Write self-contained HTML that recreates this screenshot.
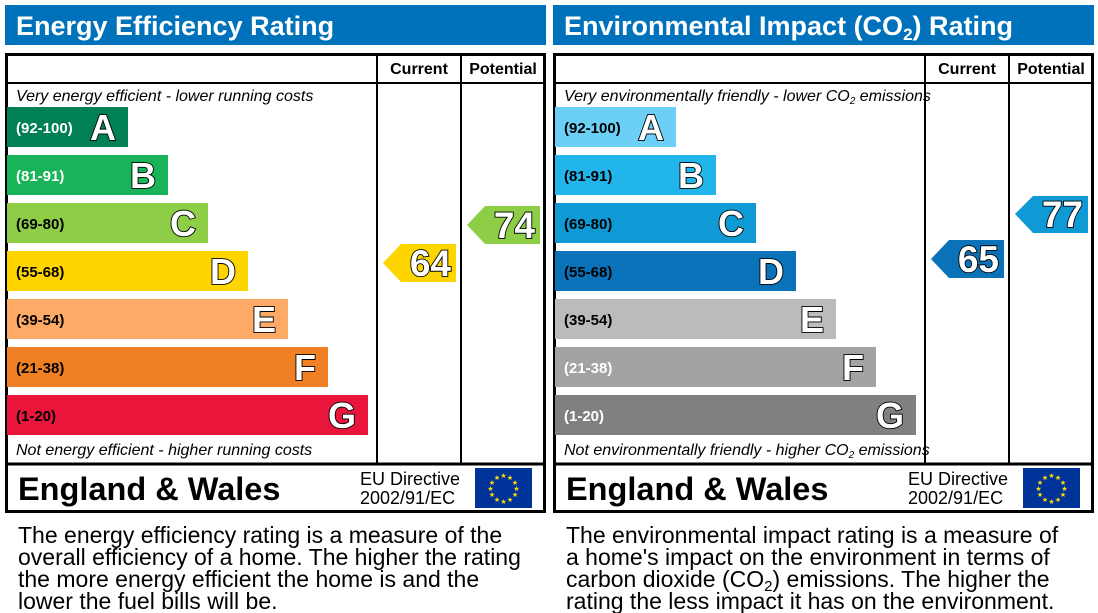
<!DOCTYPE html>
<html><head><meta charset="utf-8"><style>
body{margin:0;background:#fff;}
svg{display:block;font-family:"Liberation Sans",Arial,sans-serif;}
.ltr{font-weight:bold;font-size:36px;fill:#fff;stroke:#000;stroke-width:1.8;paint-order:stroke;}
.rng{font-weight:bold;font-size:15px;fill:#fff;}
.num{font-weight:bold;font-size:37px;fill:#fff;stroke:#000;stroke-width:1.8;paint-order:stroke;}
</style></head><body>
<svg width="1098" height="613" viewBox="0 0 1098 613">
<defs>
<g id="eu"><rect x="0" y="0" width="57" height="40" fill="#003399"/>
<g fill="#ffdd00" font-size="7" text-anchor="middle">
<text x="28.5" y="10">★</text><text x="35" y="12">★</text><text x="40" y="17">★</text><text x="41.5" y="23">★</text><text x="40" y="29">★</text><text x="35" y="34">★</text><text x="28.5" y="36">★</text><text x="22" y="34">★</text><text x="17" y="29">★</text><text x="15.5" y="23">★</text><text x="17" y="17">★</text><text x="22" y="12">★</text></g></g>
</defs>

<!-- LEFT -->
<rect x="5" y="5" width="541" height="40" fill="#0072bb"/>
<text x="16" y="35" font-size="27" font-weight="bold" fill="#fff">Energy Efficiency Rating</text>
<rect x="6.5" y="54.5" width="538" height="457" fill="none" stroke="#000" stroke-width="3"/>
<line x1="5" y1="83" x2="546" y2="83" stroke="#000" stroke-width="2"/>
<line x1="5" y1="464" x2="546" y2="464" stroke="#000" stroke-width="3"/>
<line x1="377" y1="54" x2="377" y2="464" stroke="#000" stroke-width="2"/>
<line x1="461" y1="54" x2="461" y2="464" stroke="#000" stroke-width="2"/>
<text x="419" y="74" font-size="16" font-weight="bold" text-anchor="middle">Current</text>
<text x="503" y="74" font-size="16" font-weight="bold" text-anchor="middle">Potential</text>
<text x="16" y="101" font-size="16" font-style="italic">Very energy efficient - lower running costs</text>
<text x="16" y="455" font-size="16" font-style="italic">Not energy efficient - higher running costs</text>
<rect x="7" y="107" width="121" height="40" fill="#008054"/><text class="rng" x="16" y="133">(92-100)</text><text class="ltr" x="116" y="140" text-anchor="end">A</text>
<rect x="7" y="155" width="161" height="40" fill="#19b459"/><text class="rng" x="16" y="181">(81-91)</text><text class="ltr" x="156" y="188" text-anchor="end">B</text>
<rect x="7" y="203" width="201" height="40" fill="#8dce46"/><text class="rng" x="16" y="229" style="fill:#000">(69-80)</text><text class="ltr" x="196" y="236" text-anchor="end">C</text>
<rect x="7" y="251" width="241" height="40" fill="#ffd500"/><text class="rng" x="16" y="277" style="fill:#000">(55-68)</text><text class="ltr" x="236" y="284" text-anchor="end">D</text>
<rect x="7" y="299" width="281" height="40" fill="#fcaa65"/><text class="rng" x="16" y="325" style="fill:#000">(39-54)</text><text class="ltr" x="276" y="332" text-anchor="end">E</text>
<rect x="7" y="347" width="321" height="40" fill="#ef8023"/><text class="rng" x="16" y="373" style="fill:#000">(21-38)</text><text class="ltr" x="316" y="380" text-anchor="end">F</text>
<rect x="7" y="395" width="361" height="40" fill="#e9153b"/><text class="rng" x="16" y="421" style="fill:#000">(1-20)</text><text class="ltr" x="356" y="428" text-anchor="end">G</text>
<polygon points="383,263 401,244 456,244 456,282 401,282" fill="#ffd500"/><text class="num" x="451" y="276" text-anchor="end">64</text>
<polygon points="467,225 485,206 540,206 540,244 485,244" fill="#8dce46"/><text class="num" x="535" y="238" text-anchor="end">74</text>
<text x="18" y="500" font-size="32.5" font-weight="bold">England &amp; Wales</text>
<text x="360" y="485" font-size="18">EU Directive</text>
<text x="360" y="504" font-size="18">2002/91/EC</text>
<use href="#eu" x="475" y="468"/>
<g font-size="23">
<text x="18" y="543">The energy efficiency rating is a measure of the</text>
<text x="18" y="565">overall efficiency of a home. The higher the rating</text>
<text x="18" y="587">the more energy efficient the home is and the</text>
<text x="18" y="609">lower the fuel bills will be.</text>
</g>

<!-- RIGHT -->
<g transform="translate(548,0)">
<rect x="5" y="5" width="541" height="40" fill="#0072bb"/>
<text x="16" y="35" font-size="27" font-weight="bold" fill="#fff">Environmental Impact (CO<tspan font-size="17" dy="5">2</tspan><tspan dy="-5">) Rating</tspan></text>
<rect x="6.5" y="54.5" width="538" height="457" fill="none" stroke="#000" stroke-width="3"/>
<line x1="5" y1="83" x2="546" y2="83" stroke="#000" stroke-width="2"/>
<line x1="5" y1="464" x2="546" y2="464" stroke="#000" stroke-width="3"/>
<line x1="377" y1="54" x2="377" y2="464" stroke="#000" stroke-width="2"/>
<line x1="461" y1="54" x2="461" y2="464" stroke="#000" stroke-width="2"/>
<text x="419" y="74" font-size="16" font-weight="bold" text-anchor="middle">Current</text>
<text x="503" y="74" font-size="16" font-weight="bold" text-anchor="middle">Potential</text>
<text x="16" y="101" font-size="16" font-style="italic">Very environmentally friendly - lower CO<tspan font-size="10" dy="3">2</tspan><tspan dy="-3"> emissions</tspan></text>
<text x="16" y="455" font-size="16" font-style="italic">Not environmentally friendly - higher CO<tspan font-size="10" dy="3">2</tspan><tspan dy="-3"> emissions</tspan></text>
<rect x="7" y="107" width="121" height="40" fill="#6ccff6"/><text class="rng" x="16" y="133" style="fill:#000">(92-100)</text><text class="ltr" x="116" y="140" text-anchor="end">A</text>
<rect x="7" y="155" width="161" height="40" fill="#22b5ec"/><text class="rng" x="16" y="181" style="fill:#000">(81-91)</text><text class="ltr" x="156" y="188" text-anchor="end">B</text>
<rect x="7" y="203" width="201" height="40" fill="#0f9ad6"/><text class="rng" x="16" y="229" style="fill:#000">(69-80)</text><text class="ltr" x="196" y="236" text-anchor="end">C</text>
<rect x="7" y="251" width="241" height="40" fill="#0a72b8"/><text class="rng" x="16" y="277" style="fill:#000">(55-68)</text><text class="ltr" x="236" y="284" text-anchor="end">D</text>
<rect x="7" y="299" width="281" height="40" fill="#bbbbbb"/><text class="rng" x="16" y="325" style="fill:#000">(39-54)</text><text class="ltr" x="276" y="332" text-anchor="end">E</text>
<rect x="7" y="347" width="321" height="40" fill="#a3a3a3"/><text class="rng" x="16" y="373">(21-38)</text><text class="ltr" x="316" y="380" text-anchor="end">F</text>
<rect x="7" y="395" width="361" height="40" fill="#808080"/><text class="rng" x="16" y="421">(1-20)</text><text class="ltr" x="356" y="428" text-anchor="end">G</text>
<polygon points="383,259 401,240 456,240 456,278 401,278" fill="#0a72b8"/><text class="num" x="451" y="272" text-anchor="end">65</text>
<polygon points="467,214 485,196 540,196 540,233 485,233" fill="#0f9ad6"/><text class="num" x="535" y="227" text-anchor="end">77</text>
<text x="18" y="500" font-size="32.5" font-weight="bold">England &amp; Wales</text>
<text x="360" y="485" font-size="18">EU Directive</text>
<text x="360" y="504" font-size="18">2002/91/EC</text>
<use href="#eu" x="475" y="468"/>
<g font-size="23">
<text x="18" y="543">The environmental impact rating is a measure of</text>
<text x="18" y="565">a home's impact on the environment in terms of</text>
<text x="18" y="587">carbon dioxide (CO<tspan font-size="15" dy="4">2</tspan><tspan dy="-4">) emissions. The higher the</tspan></text>
<text x="18" y="609">rating the less impact it has on the environment.</text>
</g>
</g>
</svg>
</body></html>
